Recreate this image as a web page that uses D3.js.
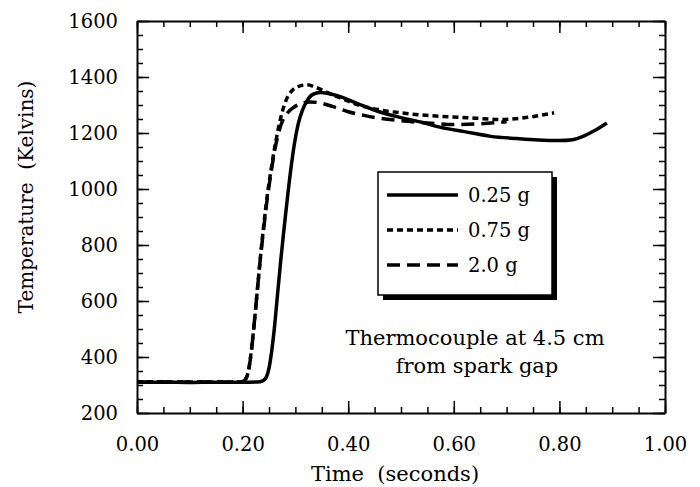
<!DOCTYPE html>
<html>
<head>
<meta charset="utf-8">
<script src="https://cdn.jsdelivr.net/npm/d3@7"></script>
<style>
  body { margin: 0; background: #fff; }
  text { font-family: "DejaVu Serif", serif; fill: #000; }
</style>
</head>
<body>
<div id="chart"></div>
<script>
// series: [time (s), temperature (K)]
const run025 = [[0,310],[0.05,310],[0.10,309],[0.15,310],[0.20,310],[0.228,311],[0.238,315],[0.245,328],[0.25,360],[0.255,420],[0.26,500],[0.266,620],[0.272,740],[0.278,850],[0.285,970],[0.292,1080],[0.298,1160],[0.305,1230],[0.313,1280],[0.322,1315],[0.333,1338],[0.347,1345],[0.365,1340],[0.385,1330],[0.42,1303],[0.46,1275],[0.50,1255],[0.54,1238],[0.575,1220],[0.62,1205],[0.67,1188],[0.72,1180],[0.76,1175],[0.80,1173],[0.825,1176],[0.845,1188],[0.865,1207],[0.89,1236]];
const run075 = [[0,312],[0.10,311],[0.19,311],[0.20,313],[0.207,325],[0.212,360],[0.217,430],[0.222,520],[0.228,640],[0.234,760],[0.24,870],[0.247,980],[0.254,1070],[0.26,1140],[0.267,1210],[0.275,1275],[0.283,1320],[0.293,1350],[0.305,1366],[0.322,1372],[0.34,1362],[0.36,1345],[0.385,1325],[0.42,1300],[0.46,1282],[0.50,1272],[0.54,1264],[0.59,1258],[0.64,1253],[0.69,1248],[0.74,1256],[0.79,1272]];
const run20 = [[0,310],[0.10,311],[0.19,310],[0.20,312],[0.206,322],[0.211,350],[0.216,410],[0.221,500],[0.227,620],[0.233,740],[0.24,860],[0.247,970],[0.254,1060],[0.261,1140],[0.268,1200],[0.276,1245],[0.285,1272],[0.297,1292],[0.31,1305],[0.328,1311],[0.345,1308],[0.37,1295],[0.40,1276],[0.43,1263],[0.455,1254],[0.50,1244],[0.55,1236],[0.60,1230],[0.65,1233],[0.70,1240]];

const seriesLabels = ["0.25 g", "0.75 g", "2.0 g"];
const xTicks = [0, 0.2, 0.4, 0.6, 0.8, 1.0];
const yTicks = [200, 400, 600, 800, 1000, 1200, 1400, 1600];
const xMinor = d3.range(0, 1.0001, 0.05);
const yMinor = d3.range(200, 1600.1, 50);

const width = 700, height = 487;
const svg = d3.select("#chart").append("svg")
    .attr("width", width)
    .attr("height", height);

const x = d3.scaleLinear().domain([0, 1]).range([137, 665]);
const y = d3.scaleLinear().domain([200, 1600]).range([413, 21]);

// minor ticks first, all pointing inward
function minorAxis(axis, tr) {
    svg.append("g").attr("transform", tr)
        .call(axis.tickSize(-6).tickSizeOuter(0).tickFormat(""))
        .call(g => g.select(".domain").remove())
        .selectAll("line").attr("stroke-width", 1.5);
}
minorAxis(d3.axisBottom(x).tickValues(xMinor), `translate(0,${y(200)})`);
minorAxis(d3.axisTop(x).tickValues(xMinor), `translate(0,${y(1600)})`);
minorAxis(d3.axisLeft(y).tickValues(yMinor), `translate(${x(0)},0)`);
minorAxis(d3.axisRight(y).tickValues(yMinor), `translate(${x(1)},0)`);

// major ticks + frame
svg.append("g").attr("transform", `translate(0,${y(200)})`)
    .call(d3.axisBottom(x).tickValues(xTicks).tickSize(-12).tickSizeOuter(0)
        .tickPadding(24).tickFormat(d3.format(".2f")));
svg.append("g").attr("transform", `translate(0,${y(1600)})`)
    .call(d3.axisTop(x).tickValues(xTicks).tickSize(-12).tickSizeOuter(0).tickFormat(""));
svg.append("g").attr("transform", `translate(${x(0)},0)`)
    .call(d3.axisLeft(y).tickValues(yTicks).tickSize(-12).tickSizeOuter(0)
        .tickPadding(19).tickFormat(d3.format("d")));
svg.append("g").attr("transform", `translate(${x(1)},0)`)
    .call(d3.axisRight(y).tickValues(yTicks).tickSize(-12).tickSizeOuter(0).tickFormat(""));

svg.selectAll(".domain").attr("stroke-width", 2);
svg.selectAll(".tick line").attr("stroke-width", 1.5);
svg.selectAll(".tick text").style("font-size", "19.5px").style("font-family", "'DejaVu Serif', serif");

// axis titles
svg.append("text")
    .attr("x", 395).attr("y", 481)
    .style("font-size", "21px")
    .style("text-anchor", "middle")
    .style("white-space", "pre")
    .text("Time  (seconds)");

svg.append("text")
    .attr("transform", "translate(33,197) rotate(-90)")
    .style("font-size", "20px")
    .style("text-anchor", "middle")
    .style("white-space", "pre")
    .text("Temperature  (Kelvins)");

// curves
const line = d3.line()
    .x(d => x(d[0]))
    .y(d => y(d[1]))
    .curve(d3.curveMonotoneX);

const styles = [null, "6,4", "13,7"];
[run025, run075, run20].forEach((s, i) => {
    svg.append("path")
        .datum(s)
        .attr("d", line)
        .attr("fill", "none")
        .attr("stroke", "#000")
        .attr("stroke-width", 3.5)
        .attr("stroke-dasharray", styles[i]);
});

// legend with drop shadow
const legend = svg.append("g").attr("transform", "translate(378,172)");
legend.append("rect")
    .attr("x", 5).attr("y", 5)
    .attr("width", 174).attr("height", 123)
    .attr("fill", "#000");
legend.append("rect")
    .attr("width", 174).attr("height", 123)
    .attr("fill", "#fff")
    .attr("stroke", "#000")
    .attr("stroke-width", 1.5);

seriesLabels.forEach((lab, i) => {
    const ly = 23 + i * 35;
    legend.append("line")
        .attr("x1", 9).attr("x2", 80)
        .attr("y1", ly).attr("y2", ly)
        .attr("stroke", "#000")
        .attr("stroke-width", 3.5)
        .attr("stroke-dasharray", styles[i]);
    legend.append("text")
        .attr("x", 90).attr("y", ly + 7)
        .style("font-size", "19.5px")
        .text(lab);
});

// annotation
svg.append("text")
    .attr("x", 475).attr("y", 345)
    .style("font-size", "21px")
    .style("text-anchor", "middle")
    .text("Thermocouple at 4.5 cm");
svg.append("text")
    .attr("x", 477).attr("y", 373)
    .style("font-size", "21px")
    .style("text-anchor", "middle")
    .text("from spark gap");
</script>
</body>
</html>
